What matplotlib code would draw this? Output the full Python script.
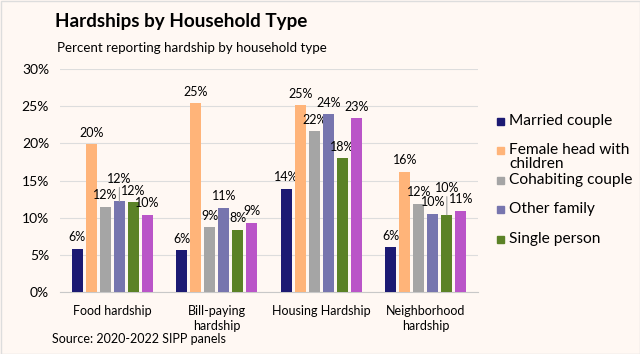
import numpy as np
import matplotlib
matplotlib.use("Agg")
import matplotlib.pyplot as plt
from matplotlib.patches import Rectangle

plt.rcParams['font.family'] = ['Lato', 'DejaVu Sans']

categories = ["Food hardship", "Bill-paying\nhardship", "Housing Hardship", "Neighborhood\nhardship"]
series_names = ["Married couple", "Female head with\nchildren", "Cohabiting couple",
                "Other family", "Single person", ""]
married = [5.8, 5.6, 13.9, 6.0]
female_head = [19.9, 25.4, 25.1, 16.2]
cohabiting = [11.5, 8.7, 21.6, 11.9]
other_family = [12.2, 11.3, 23.9, 10.5]
single = [12.1, 8.4, 18.0, 10.4]
unlabeled = [10.4, 9.3, 23.4, 10.9]
values = [married, female_head, cohabiting, other_family, single, unlabeled]
colors = ["#1C1A73", "#FFB479", "#A5A5A5", "#7775AE", "#5B8226", "#BA55C8"]

bg = "#FFF8F3"
fig = plt.figure(figsize=(6.4, 3.54), dpi=100, facecolor=bg)
ax = fig.add_axes([0.094, 0.175, 0.653, 0.63], facecolor=bg)

x = np.arange(len(categories))
step = 0.134
width = 0.105
for i, (vals, col) in enumerate(zip(values, colors)):
    pos = x + (i - 2.5) * step
    ax.bar(pos, vals, width=width, color=col, zorder=3)
    for j, (p, v) in enumerate(zip(pos, vals)):
        lbl = f"{v:.0f}%"
        # two labels sit higher up with a leader line
        if (i == 3 and j == 0) or (i == 4 and j == 3):
            up = 12 if j == 0 else 15
            ax.annotate(lbl, (p, v), xytext=(0, up), textcoords="offset points",
                        ha="center", va="bottom", fontsize=9,
                        arrowprops=dict(arrowstyle="-", color="#A0A0A0", lw=0.8,
                                        shrinkA=0, shrinkB=0))
        else:
            ax.annotate(lbl, (p, v), xytext=(0, 4), textcoords="offset points",
                        ha="center", va="bottom", fontsize=9)

ax.set_ylim(0, 30)
ax.set_xlim(-0.5, 3.5)
ax.set_yticks(np.arange(0, 31, 5))
ax.set_yticklabels([f"{t}%" for t in range(0, 31, 5)])
ax.set_xticks(x)
ax.set_xticklabels(categories, linespacing=1.3)
ax.tick_params(axis="x", length=0, labelsize=9, pad=9)
ax.tick_params(axis="y", length=0, labelsize=10, pad=8)
ax.grid(axis="y", color="#DDDDDD", lw=0.8, zorder=0)
for s in ["top", "right", "left"]:
    ax.spines[s].set_visible(False)
ax.spines["bottom"].set_color("#C8C8C8")

# legend (last series has no entry in the original)
leg_y = [121, 150, 180, 209, 239]
for name, col, yy in zip(series_names[:5], colors[:5], leg_y):
    fy = 1 - yy / 354
    fig.patches.append(Rectangle((497 / 640, fy - 3.5 / 354), 7 / 640, 7 / 354,
                                 transform=fig.transFigure, color=col))
    fig.text(509 / 640, fy + 7 / 354, name, fontsize=11.2, va="top", ha="left",
             linespacing=1.0)

fig.text(55 / 640, 1 - 22 / 354, "Hardships by Household Type", fontsize=13.6,
         fontweight="bold", va="center", ha="left")
fig.text(57 / 640, 1 - 48 / 354, "Percent reporting hardship by household type",
         fontsize=9.6, va="center", ha="left")
fig.text(52 / 640, 1 - 339 / 354, "Source: 2020-2022 SIPP panels", fontsize=9,
         va="center", ha="left")

fig.patches.append(Rectangle((0.5 / 640, 0.5 / 354), 639 / 640, 353 / 354,
                             transform=fig.transFigure, fill=False,
                             edgecolor="#DDDDDD", lw=1))

fig.savefig("out.png", dpi=100, facecolor=bg)
